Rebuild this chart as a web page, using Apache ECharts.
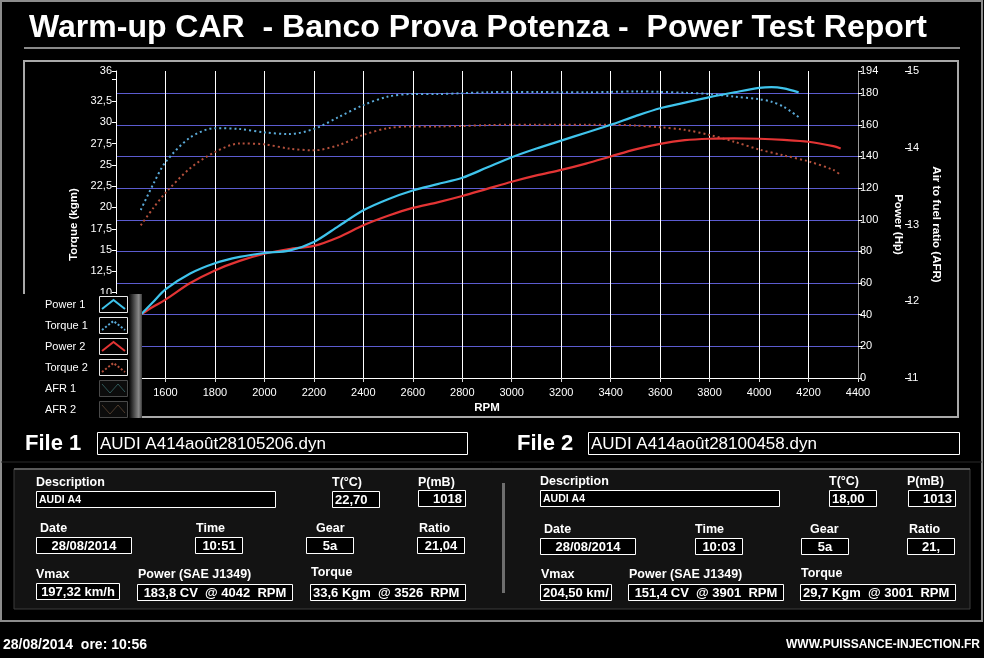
<!DOCTYPE html>
<html>
<head>
<meta charset="utf-8">
<script src="https://cdn.jsdelivr.net/npm/echarts@6/dist/echarts.min.js"></script>
<style>
html,body{margin:0;padding:0;background:#000;}
#chart{width:984px;height:658px;}
</style>
</head>
<body>
<div id="chart"></div>
<script>
// ---- Data ----
const rpm1    = [1500,1550,1600,1700,1800,1900,2000,2100,2200,2300,2400,2500,2600,2700,2800,2900,3000,3100,3200,3300,3400,3500,3600,3700,3800,3900,4000,4050,4100,4160];
const power1  = [40,48,56,66,72.5,76.5,79,80.5,86,96,106,113,118.5,122.5,126.5,133,139.5,145,150,155,160,165.5,170.5,174,177.5,180.5,183.3,183.8,183,180.5];
const torque1 = [19.7,22.7,25.3,28.2,29.3,29.2,28.8,28.6,29.2,30.6,32.0,33.0,33.3,33.3,33.4,33.5,33.55,33.55,33.5,33.5,33.55,33.6,33.55,33.45,33.3,33.0,32.7,32.4,31.8,30.6];
const rpm2    = [1500,1550,1600,1700,1800,1900,2000,2100,2200,2300,2400,2500,2600,2700,2800,2900,3000,3100,3200,3300,3400,3500,3600,3700,3800,3900,4000,4100,4200,4300,4330];
const power2  = [40,45,49.5,60,68,74,78.5,81.5,83.5,89,96.5,102.5,107.5,111,115,119.5,124,128,131.5,135.5,140,144.5,148,150.3,151.2,151.4,151.2,150.5,149.3,146.5,145];
const torque2 = [17.9,19.9,21.7,24.6,26.5,27.5,27.4,26.9,26.7,27.3,28.5,29.3,29.5,29.5,29.55,29.65,29.7,29.7,29.7,29.7,29.7,29.6,29.4,29.1,28.5,27.7,26.8,26.1,25.4,24.4,23.8];
const afr1 = [];
const afr2 = [];
const seriesNames = ['Power 1','Torque 1','Power 2','Torque 2','AFR 1','AFR 2'];

// ---- Report texts ----
const titleText = 'Warm-up CAR  - Banco Prova Potenza -  Power Test Report';
const fileNames = ['AUDI A414août28105206.dyn','AUDI A414août28100458.dyn'];
const fieldLabels = ['Description','T(°C)','P(mB)','Date','Time','Gear','Ratio','Vmax','Power (SAE J1349)','Torque'];
const file1Values = ['AUDI A4','22,70','1018','28/08/2014','10:51','5a','21,04','197,32 km/h','183,8 CV  @ 4042  RPM','33,6 Kgm  @ 3526  RPM'];
const file2Values = ['AUDI A4','18,00','1013','28/08/2014','10:03','5a','21,','204,50 km/','151,4 CV  @ 3901  RPM','29,7 Kgm  @ 3001  RPM'];
const footerLeft = '28/08/2014  ore: 10:56';
const footerRight = 'WWW.PUISSANCE-INJECTION.FR';

const zip = (xs, ys) => xs.map((x, i) => [x, ys[i]]);

const C_P1 = '#3fc4ec', C_T1 = '#5aaad8', C_P2 = '#e33434', C_T2 = '#b4503c';
const C_A1 = '#2f5858', C_A2 = '#4e3b2c';

// ---- Layout helpers for graphic decorations ----
const FB = 'Liberation Sans';
const g = [];
function txt(x, y, text, opt) {
  opt = opt || {};
  g.push({type:'text', z: opt.z || 10, style:{x:x, y:y, text:text, fill: opt.fill || '#fff',
    font: opt.font || ('bold 13px ' + FB), align: opt.align || 'left', verticalAlign:'middle'}});
}
function box(x, y, w, h, text, align, font, z) {
  g.push({type:'rect', z: z || 5, shape:{x:x+0.5, y:y+0.5, width:w, height:h},
    style:{fill:'#000', stroke:'#fff', lineWidth:1}});
  let tx = align === 'center' ? x + w/2 + 0.5 : (align === 'right' ? x + w - 3 : x + 3);
  txt(tx, y + h/2 + 1, text, {font: font, align: align, z: (z||5)+1});
}
// outer frame & title
g.push({type:'rect', z:1, shape:{x:1, y:1, width:981, height:620}, style:{fill:'none', stroke:'#8c8c8c', lineWidth:2}});
txt(29, 28, titleText, {font:'bold 32px ' + FB});
g.push({type:'line', z:1, shape:{x1:24, y1:48, x2:960, y2:48}, style:{stroke:'#8a8a8a', lineWidth:2}});
// chart panel frame
g.push({type:'rect', z:1, shape:{x:24, y:61, width:934, height:356}, style:{fill:'none', stroke:'#a9a9a9', lineWidth:2}});
// file rows
txt(25, 444, 'File 1', {font:'bold 22px ' + FB});
box(97, 432, 370, 22, fileNames[0], 'left', '17px ' + FB);
txt(517, 444, 'File 2', {font:'bold 22px ' + FB});
box(588, 432, 371, 22, fileNames[1], 'left', '17px ' + FB);
// info panel background
g.push({type:'rect', z:1, shape:{x:14, y:469, width:956, height:140}, style:{fill:'#131313', stroke:'#3c3c3c', lineWidth:1}});
g.push({type:'line', z:2, shape:{x1:14, y1:469, x2:970, y2:469}, style:{stroke:'#5a5a5a', lineWidth:2}});
g.push({type:'line', z:2, shape:{x1:1, y1:462, x2:982, y2:462}, style:{stroke:'#2a2a2a', lineWidth:1}});
g.push({type:'rect', z:2, shape:{x:502, y:483, width:3, height:110}, style:{fill:'#6e6e6e'}});

const LF = 'bold 12.5px ' + FB, VF = 'bold 13px ' + FB, DF = 'bold 10.5px ' + FB;
// [labelX, labelY, boxX, boxY, boxW, align]
const layout1 = [
  [36,483,36,491,239,'left'],
  [332,483,332,491,47,'left'],
  [418,483,418,490,47,'right'],
  [40,529,36,537,95,'center'],
  [196,529,195,537,47,'center'],
  [316,529,306,537,47,'center'],
  [419,529,417,537,47,'center'],
  [36,575,36,583,83,'center'],
  [138,575,137,584,155,'center'],
  [311,573,310,584,155,'left']
];
const layout2 = [
  [540,482,540,490,239,'left'],
  [829,482,829,490,47,'left'],
  [907,482,908,490,47,'right'],
  [544,530,540,538,95,'center'],
  [695,530,695,538,47,'center'],
  [810,530,801,538,47,'center'],
  [909,530,907,538,47,'center'],
  [541,575,540,584,71,'left'],
  [629,575,628,584,155,'center'],
  [801,574,800,584,155,'left']
];
function panel(L, vals) {
  L.forEach((l, i) => {
    txt(l[0], l[1], fieldLabels[i], {font: LF});
    box(l[2], l[3], l[4], 16, vals[i], l[5], i === 0 ? DF : VF);
  });
}
panel(layout1, file1Values);
panel(layout2, file2Values);
// footer
txt(3, 645, footerLeft, {font:'bold 14px ' + FB});
txt(980, 645, footerRight, {font:'bold 12px ' + FB, align:'right'});

// legend panel (drawn above the plot's lower-left corner)
const legendColors = [C_P1, C_T1, C_P2, C_T2, C_A1, C_A2];
g.push({type:'rect', z:100, shape:{x:20, y:294, width:122, height:124}, style:{fill:'#000'}});
g.push({type:'rect', z:101, shape:{x:129, y:294, width:13, height:124},
  style:{fill:{type:'linear', x:0, y:0, x2:1, y2:0, colorStops:[
    {offset:0, color:'#050505'}, {offset:0.75, color:'#8a8a8a'}, {offset:1, color:'#3a3a3a'}]}}});
seriesNames.forEach((name, i) => {
  const y0 = 296 + i * 21;
  txt(45, y0 + 8.5, name, {font:'11px ' + FB, z:102});
  const afr = i >= 4;
  g.push({type:'rect', z:102, shape:{x:99.5, y:y0 + 0.5, width:28, height:16},
    style:{fill:afr ? '#0c0c0c' : '#000', stroke: afr ? '#4a4a4a' : '#e8e8e8', lineWidth:1}});
  const pts = afr ? [[102, y0+4], [110, y0+13], [118, y0+4], [125, y0+12]]
                  : [[102, y0+13], [113.5, y0+4], [125, y0+13]];
  g.push({type:'polyline', z:103, shape:{points:pts},
    style:{fill:'none', stroke:legendColors[i], lineWidth: afr ? 1 : 2,
      lineDash: (i === 1 || i === 3) ? [2, 2] : null}});
});

const tf = v => String(v).replace('.', ',');
const axisFont = {color:'#fff', fontSize:11, fontFamily:FB};
const nameFont = {color:'#fff', fontSize:11.5, fontWeight:'bold', fontFamily:FB};

const option = {
  backgroundColor:'#000',
  animation:false,
  grid:{left:116, right:126, top:71, bottom:280, containLabel:false},
  xAxis:[{
    type:'value', min:1400, max:4400, interval:200,
    name:'RPM', nameLocation:'middle', nameGap:24, nameTextStyle:nameFont,
    axisLine:{lineStyle:{color:'#9a9a9a', width:1}},
    axisTick:{length:4, lineStyle:{color:'#dcdcdc'}},
    axisLabel:Object.assign({margin:9, formatter:v => v === 1400 ? '' : String(v)}, axisFont),
    splitLine:{show:true, showMinLine:false, showMaxLine:false, lineStyle:{color:'#ffffff', width:1}}
  },{
    type:'value', min:1400, max:4400, position:'top',
    axisLine:{show:true, lineStyle:{color:'#ffffff', width:1}},
    axisTick:{show:false}, axisLabel:{show:false}, splitLine:{show:false}
  }],
  yAxis:[{
    type:'value', position:'left', min:0, max:36, interval:2.5,
    name:'Torque (kgm)', nameLocation:'middle', nameRotate:90, nameGap:34, nameTextStyle:nameFont,
    axisLine:{show:true, lineStyle:{color:'#ffffff'}},
    axisTick:{show:true, length:4, lineStyle:{color:'#ffffff'}},
    axisLabel:Object.assign({margin:4, formatter:v => (v === 35 || v < 10) ? '' : tf(v)}, axisFont),
    splitLine:{show:false}
  },{
    type:'value', position:'right', min:0, max:194, interval:20,
    name:'Power (Hp)', nameLocation:'middle', nameRotate:-90, nameGap:34, nameTextStyle:nameFont,
    axisLine:{show:true, lineStyle:{color:'#9a9a9a'}},
    axisTick:{show:true, length:4, lineStyle:{color:'#ffffff'}},
    axisLabel:Object.assign({margin:2}, axisFont),
    splitLine:{show:true, showMinLine:false, showMaxLine:false, lineStyle:{color:'#5c5cd0', width:1}}
  },{
    type:'value', position:'right', offset:47, min:11, max:15, interval:1,
    name:'Air to fuel ratio (AFR)', nameLocation:'middle', nameRotate:-90, nameGap:25, nameTextStyle:nameFont,
    axisLine:{show:false},
    axisTick:{show:true, length:5, lineStyle:{color:'#ffffff'}},
    axisLabel:Object.assign({margin:2}, axisFont),
    splitLine:{show:false}
  }],
  series:[
    {name:seriesNames[1], type:'line', yAxisIndex:0, data:zip(rpm1, torque1), showSymbol:false, smooth:0.3,
      lineStyle:{color:C_T1, width:2, type:[2,3]}, itemStyle:{color:C_T1}, z:3},
    {name:seriesNames[3], type:'line', yAxisIndex:0, data:zip(rpm2, torque2), showSymbol:false, smooth:0.3,
      lineStyle:{color:C_T2, width:2, type:[2,3]}, itemStyle:{color:C_T2}, z:3},
    {name:seriesNames[2], type:'line', yAxisIndex:1, data:zip(rpm2, power2), showSymbol:false, smooth:0.3,
      lineStyle:{color:C_P2, width:2.2}, itemStyle:{color:C_P2}, z:4},
    {name:seriesNames[0], type:'line', yAxisIndex:1, data:zip(rpm1, power1), showSymbol:false, smooth:0.3,
      lineStyle:{color:C_P1, width:2.2}, itemStyle:{color:C_P1}, z:5},
    {name:seriesNames[4], type:'line', yAxisIndex:2, data:afr1, showSymbol:false, lineStyle:{color:C_A1}},
    {name:seriesNames[5], type:'line', yAxisIndex:2, data:afr2, showSymbol:false, lineStyle:{color:C_A2}}
  ],
  graphic:g
};
const chart = echarts.init(document.getElementById('chart'), null, {renderer:'canvas'});
chart.setOption(option);
</script>
</body>
</html>
